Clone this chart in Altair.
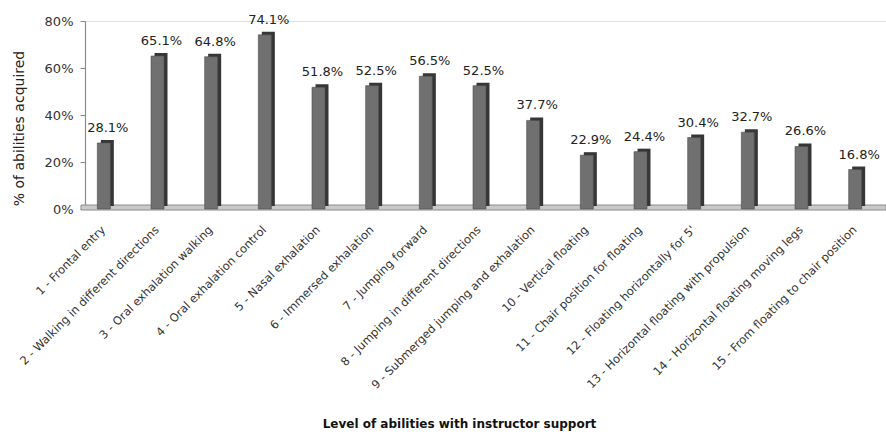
import altair as alt
import pandas as pd

# Swimming abilities acquired with instructor support
skills = [
    "1 - Frontal entry",
    "2 - Walking in different directions",
    "3 - Oral exhalation walking",
    "4 - Oral exhalation control",
    "5 - Nasal exhalation",
    "6 - Immersed exhalation",
    "7 - Jumping forward",
    "8 - Jumping in different directions",
    "9 - Submerged jumping and exhalation",
    "10 - Vertical floating",
    "11 - Chair position for floating",
    "12 - Floating horizontally for 5'",
    "13 - Horizontal floating with propulsion",
    "14 - Horizontal floating moving legs",
    "15 - From floating to chair position",
]
acquired = [0.281, 0.651, 0.648, 0.741, 0.518, 0.525, 0.565, 0.525,
            0.377, 0.229, 0.244, 0.304, 0.327, 0.266, 0.168]

df = pd.DataFrame({"skill": skills, "value": acquired})

FONT = "DejaVu Sans"
W, H = 801, 188

x = alt.X(
    "skill:N",
    sort=skills,
    scale=alt.Scale(domain=skills, range=[-8, 797], paddingInner=0, paddingOuter=0),
    axis=alt.Axis(
        title="Level of abilities with instructor support",
        titleFont=FONT, titleFontSize=12, titleFontWeight="bold", titleColor="#111",
        titleX=374, titleY=218, titleBaseline="alphabetic", titleAnchor="middle",
        titleAlign="center",
        labelAngle=-45, labelAlign="right", labelBaseline="middle",
        labelFont=FONT, labelFontSize=11.5, labelColor="#333",
        labelPadding=19, labelOverlap=False, labelLimit=400,
        domain=False, ticks=False,
    ),
)

y = alt.Y(
    "value:Q",
    scale=alt.Scale(domain=[0, 0.8], nice=False),
    axis=alt.Axis(
        title="% of abilities acquired",
        titleFont=FONT, titleFontSize=14, titleFontWeight="normal", titleColor="#222",
        titleX=-59, titleY=107, titleAngle=-90,
        format=".0%", values=[0, 0.2, 0.4, 0.6, 0.8],
        labelFont=FONT, labelFontSize=13, labelColor="#333", labelPadding=7,
        domainColor="#8a8a8a", domainWidth=1.2, tickColor="#8a8a8a", tickSize=5,
        grid=False,
    ),
)

base = alt.Chart(df)

# floor plane under the bars
floor = alt.Chart(pd.DataFrame({"f": [0]})).mark_rect(
    color="#c9c9c9", stroke="#8c8c8c", strokeWidth=1
).encode(
    x=alt.value(-4), x2=alt.value(W), y=alt.value(H - 4), y2=alt.value(H + 1)
)

# dark side/top faces, shifted up and to the right
side = base.mark_bar(size=13, color="#363636", xOffset=3.5, yOffset=-3).encode(x=x, y=y)

# front faces
front = base.mark_bar(size=13, color="#707070", stroke="#4d4d4d", strokeWidth=0.6).encode(x=x, y=y)

labels = base.mark_text(
    font=FONT, fontSize=13, color="#222", dx=4, dy=-15, baseline="middle"
).encode(x=x, y=y, text=alt.Text("value:Q", format=".1%"))

chart = (
    alt.layer(floor, side, front, labels)
    .properties(
        width=W, height=H,
        autosize=alt.AutoSizeParams(type="none"),
        padding={"left": 85, "top": 21, "right": 0, "bottom": 226},
    )
    .configure_view(stroke=None)
    .configure(background="white")
)

chart.save("out.html", embed_options={"renderer": "svg", "actions": False})
